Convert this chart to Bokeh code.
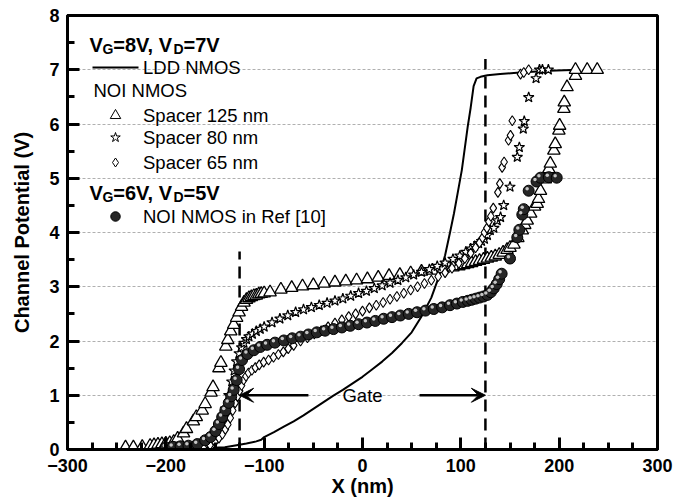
from bokeh.plotting import figure
from bokeh.models import SingleIntervalTicker, Label, Arrow, VeeHead, ColumnDataSource
from bokeh.transform import dodge
from bokeh.embed import file_html
from bokeh.resources import INLINE

# ---------------- data ----------------
ldd_x = [-152, -140, -128, -118, -108, -103, -100, -90, -80, -70, -60, -50, -40, -30, -20, -10, 0, 10, 20, 30,
         40, 50, 60, 70, 78, 84, 89, 93, 97, 101, 104, 107, 110, 113, 116, 120, 127, 140, 160, 190, 220]
ldd_y = [0.03, 0.04, 0.08, 0.11, 0.15, 0.18, 0.23, 0.32, 0.42, 0.52, 0.63, 0.75, 0.87, 0.99, 1.1, 1.22, 1.34, 1.48, 1.62, 1.78,
         1.96, 2.16, 2.45, 2.8, 3.2, 3.58, 4.0, 4.35, 4.75, 5.15, 5.55, 5.95, 6.3, 6.7, 6.84, 6.87, 6.9, 6.92, 6.95, 6.98, 7.0]

s125_x = [-241, -233, -224, -216, -212, -208, -204, -200, -196, -192,
          -188, -182, -179, -172, -169, -163, -160, -154, -152, -146,
          -144, -139, -137, -134, -131, -128, -125.5, -123, -120.5, -118,
          -115.5, -113, -110.5, -108, -105.5, -103, -100, -94, -83, -72,
          -61, -50, -39, -28, -17, -6, 5, 16, 27, 38,
          49, 60, 71, 82, 92, 98, 103, 107, 111, 115,
          119, 123, 127, 131, 135, 139, 143, 147, 150, 154,
          158, 162.5, 165, 167.5, 171, 175, 177.7, 179, 181, 186,
          189.5, 191, 194.6, 196, 199.7, 200.5, 204.8, 205.2, 208, 216.6,
          216.6, 228.5, 238.7]
s125_y = [0.04, 0.04, 0.05, 0.07, 0.08, 0.09, 0.1, 0.11, 0.12, 0.14,
          0.2, 0.3, 0.38, 0.52, 0.6, 0.72, 0.84, 1.05, 1.15, 1.5,
          1.6, 1.9, 2.02, 2.18, 2.3, 2.43, 2.53, 2.63, 2.71, 2.76,
          2.79, 2.81, 2.83, 2.84, 2.86, 2.87, 2.88, 2.9, 2.95, 2.98,
          3.01, 3.03, 3.06, 3.08, 3.1, 3.12, 3.14, 3.17, 3.2, 3.22,
          3.25, 3.28, 3.3, 3.33, 3.36, 3.38, 3.4, 3.42, 3.44, 3.46,
          3.48, 3.5, 3.52, 3.54, 3.56, 3.59, 3.63, 3.68, 3.72, 3.78,
          3.9, 4.04, 4.14, 4.22, 4.35, 4.48, 4.53, 4.62, 4.77, 4.98,
          5.17, 5.27, 5.51, 5.63, 5.88, 5.97, 6.28, 6.4, 6.68, 6.89,
          7.0, 7.0, 7.0]

s80_x = [-166, -158, -152, -147, -143, -139.5, -136, -133, -130.5, -128,
         -125.5, -123, -120.5, -118, -115.5, -112, -108, -104, -100, -92,
         -84, -76, -68, -60, -52, -44, -36, -28, -20, -12,
         -4, 4, 12, 20, 28, 36, 44, 52, 60, 68,
         76, 84, 92, 99, 105, 110, 114, 118, 121, 124,
         127, 130, 133.6, 137, 140.4, 143.6, 150, 157.4, 159.5, 163.5,
         164.5, 169, 176.5, 180, 183, 189]
s80_y = [0.04, 0.08, 0.15, 0.3, 0.5, 0.75, 1.0, 1.25, 1.45, 1.62,
         1.77, 1.88, 1.96, 2.03, 2.08, 2.13, 2.18, 2.22, 2.26, 2.34,
         2.41, 2.47, 2.53, 2.58, 2.62, 2.66, 2.7, 2.74, 2.78, 2.83,
         2.88, 2.92, 2.97, 3.02, 3.07, 3.12, 3.17, 3.22, 3.27, 3.32,
         3.38, 3.44, 3.51, 3.57, 3.64, 3.7, 3.75, 3.8, 3.84, 3.88,
         3.95, 4.04, 4.08, 4.22, 4.28, 4.5, 4.84, 5.39, 5.57, 5.91,
         6.05, 6.49, 6.84, 7.0, 7.0, 7.0]

s65_x = [-170, -162, -155, -150, -146, -142.5, -139.5, -137, -134.5, -132,
         -129.5, -127, -125, -123, -120.8, -118.5, -116, -112.5, -109, -105,
         -100.5, -95.5, -90.5, -85.5, -80.5, -75.5, -70, -63, -56, -49,
         -42, -35, -28, -21, -14, -7, 0, 7, 14, 21,
         28, 35, 42, 49, 56, 63, 70, 77, 84, 91,
         98, 104, 110, 115, 119, 122, 124, 126.5, 128.5, 130.5,
         133, 137.7, 139.7, 142, 144, 148.5, 150.5, 152.3, 160.7, 164,
         169]
s65_y = [0.02, 0.04, 0.08, 0.14, 0.21, 0.28, 0.37, 0.46, 0.58, 0.72,
         0.86, 0.98, 1.08, 1.18, 1.28, 1.35, 1.41, 1.46, 1.51, 1.56,
         1.61, 1.65, 1.7, 1.75, 1.8, 1.86, 1.92, 2.0, 2.06, 2.13,
         2.19, 2.26, 2.33, 2.39, 2.45, 2.5, 2.55, 2.61, 2.66, 2.71,
         2.77, 2.82, 2.88, 2.94, 3.0, 3.06, 3.12, 3.19, 3.26, 3.34,
         3.43, 3.52, 3.62, 3.72, 3.81, 3.9, 4.0, 4.08, 4.2, 4.3,
         4.45, 4.74, 4.9, 5.2, 5.3, 5.7, 5.79, 6.06, 6.92, 6.95,
         7.0]

ref_x = [-200, -193, -185, -177, -168, -160, -154.5, -149.5, -146, -142.7,
         -139.5, -136, -133.5, -131, -128, -125.5, -122.5, -117, -110.5, -104,
         -97, -89, -80, -71.5, -63, -55, -46.5, -38, -29.5, -21,
         -12.5, -4, 4.5, 13, 21.5, 30, 38.5, 47, 55.5, 64,
         72.5, 81, 89, 96, 102, 107, 111, 115, 119, 123,
         127, 130.5, 133.5, 136.5, 139, 141.5, 150, 157.4, 159.5, 162.5,
         164, 169, 177, 181, 189.5, 197.5]
ref_y = [0.04, 0.05, 0.06, 0.07, 0.1, 0.17, 0.23, 0.34, 0.47, 0.6,
         0.72, 0.86, 0.98, 1.1, 1.28, 1.48, 1.65, 1.76, 1.83, 1.89,
         1.93, 1.97, 2.01, 2.05, 2.08, 2.12, 2.16, 2.19, 2.22, 2.25,
         2.28, 2.31, 2.34, 2.37, 2.41, 2.44, 2.47, 2.5, 2.53, 2.56,
         2.59, 2.62, 2.66, 2.69, 2.72, 2.74, 2.76, 2.78, 2.8, 2.82,
         2.85, 2.9, 2.97, 3.05, 3.14, 3.24, 3.52, 3.91, 4.05, 4.33,
         4.43, 4.77, 4.94, 5.01, 5.02, 5.01]

gate_edges = [-125, 125]          # gate boundaries (nm)
gate_dash_top = [3.65, 7.2]       # top of the dashed boundary lines (V)
gate_arrow_y = 1.0
gate_arrow_starts = [-55, 58]

legend_labels = ["LDD NMOS", "NOI NMOS", "Spacer 125 nm", "Spacer 80 nm", "Spacer 65 nm", "NOI NMOS in Ref [10]"]

# ---------------- layout / style ----------------
X_RANGE = (-300, 300)
Y_RANGE = (0, 8)
FW, FH = 590, 434
REF_LEFT, REF_TOP = 67, 15   # frame corner in the picture (style only)
FONT = "Liberation Sans"


def sx(px):
    return X_RANGE[0] + (px - REF_LEFT) / FW * (X_RANGE[1] - X_RANGE[0])


def sy(py):
    return Y_RANGE[1] - (py - REF_TOP) / FH * (Y_RANGE[1] - Y_RANGE[0])


p = figure(frame_width=FW, frame_height=FH, x_range=X_RANGE, y_range=Y_RANGE,
           output_backend="svg", toolbar_location=None,
           min_border_left=REF_LEFT, min_border_right=25, min_border_top=REF_TOP, min_border_bottom=10)
p.background_fill_color = "white"
p.border_fill_color = "white"
p.outline_line_color = "black"
p.outline_line_width = 3

p.xaxis.ticker = SingleIntervalTicker(interval=100, num_minor_ticks=4)
p.yaxis.ticker = SingleIntervalTicker(interval=1, num_minor_ticks=2)
p.xaxis.axis_label = "X (nm)"
p.yaxis.axis_label = "Channel Potential (V)"
for ax in (p.xaxis[0], p.yaxis[0]):
    ax.axis_line_width = 3
    ax.axis_line_color = "black"
    ax.major_tick_in = 12
    ax.major_tick_out = 0
    ax.minor_tick_in = 7
    ax.minor_tick_out = 0
    ax.major_tick_line_width = 3
    ax.minor_tick_line_width = 3
    ax.major_tick_line_color = "black"
    ax.minor_tick_line_color = "black"
    ax.major_label_text_font = FONT
    ax.major_label_text_font_style = "bold"
    ax.major_label_text_font_size = "18px"
    ax.major_label_text_color = "black"
    ax.axis_label_text_font = FONT
    ax.axis_label_text_font_style = "bold"
    ax.axis_label_text_font_size = "20px"
    ax.axis_label_text_color = "black"
p.xaxis.major_label_standoff = 9
p.xaxis.axis_label_standoff = 0
p.yaxis.major_label_standoff = 8
p.yaxis.axis_label_standoff = 13

p.xgrid.visible = False
p.ygrid.grid_line_color = "#b0b0b0"
p.ygrid.grid_line_dash = "3 2"
p.ygrid.grid_line_width = 1

# gate boundaries
p.segment(x0=gate_edges, y0=[0, 0], x1=gate_edges, y1=gate_dash_top,
          line_color="black", line_width=2.5, line_dash="12 7")

# curves
p.line(ldd_x, ldd_y, line_color="black", line_width=2)
p.scatter(s125_x, s125_y, marker="triangle", size=12.5, fill_color="white", line_color="black", line_width=1.3)
p.scatter(s80_x, s80_y, marker="star", size=11, fill_color="white", line_color="black", line_width=1.2)
p.scatter(s65_x, s65_y, marker="diamond", size=10, fill_color="white", line_color="black", line_width=1.1)
ref_src = ColumnDataSource(data=dict(x=ref_x, y=ref_y))
p.scatter("x", "y", source=ref_src, marker="circle", size=11, fill_color="#262626", line_color="black", line_width=1)
p.scatter(x=dodge("x", -1.6, range=p.x_range), y=dodge("y", 0.035, range=p.y_range), source=ref_src,
          marker="circle", size=3.5, fill_color="#d8d8d8", fill_alpha=0.9, line_color=None)

# gate arrows
for xs, xe in zip(gate_arrow_starts, gate_edges):
    p.add_layout(Arrow(end=VeeHead(size=14, fill_color="black", line_color="black", line_width=1),
                       x_start=xs, y_start=gate_arrow_y, x_end=xe, y_end=gate_arrow_y,
                       line_color="black", line_width=2.5))
p.add_layout(Label(x=(gate_edges[0] + gate_edges[1]) / 2, y=gate_arrow_y, text="Gate",
                   text_align="center", text_baseline="middle",
                   text_font=FONT, text_font_size="18.5px", text_color="black"))


# ---------------- legend (hand-built) ----------------
def text_at(px, py, txt, size="18.5px", style="normal", baseline="middle"):
    p.add_layout(Label(x=sx(px), y=sy(py), text=txt, text_align="left", text_baseline=baseline,
                       text_font=FONT, text_font_size=size, text_font_style=style, text_color="black"))


def header(px0, py_base, g_val, d_val):
    main, sub = "20px", "14px"
    text_at(px0, py_base, "V", main, "bold", "alphabetic")
    text_at(px0 + 13.0, py_base + 4, "G", sub, "bold", "alphabetic")
    text_at(px0 + 23.8, py_base, "=%s, V" % g_val, main, "bold", "alphabetic")
    text_at(px0 + 84.0, py_base + 4, "D", sub, "bold", "alphabetic")
    text_at(px0 + 94.0, py_base, "=%s" % d_val, main, "bold", "alphabetic")


LEG_TXT_X = 142.5
LEG_MK_X = 115
header(89, 44, "8V", "7V")
p.line([sx(92), sx(138)], [sy(67), sy(67)], line_color="black", line_width=2)
text_at(LEG_TXT_X, 67, legend_labels[0])
text_at(93, 90, legend_labels[1])
p.scatter([sx(LEG_MK_X)], [sy(115)], marker="triangle", size=10.5, fill_color="white", line_color="black", line_width=1)
text_at(LEG_TXT_X, 115, legend_labels[2])
p.scatter([sx(LEG_MK_X)], [sy(137)], marker="star", size=10, fill_color="white", line_color="black", line_width=1)
text_at(LEG_TXT_X, 137, legend_labels[3])
p.scatter([sx(LEG_MK_X)], [sy(162)], marker="diamond", size=9, fill_color="white", line_color="black", line_width=1)
text_at(LEG_TXT_X, 162, legend_labels[4])
header(89, 192, "6V", "5V")
p.scatter([sx(LEG_MK_X)], [sy(216)], marker="circle", size=9.5, fill_color="#262626", line_color="black", line_width=1)
text_at(LEG_TXT_X, 216, legend_labels[5])

open("out.html", "w").write(file_html(p, INLINE))
